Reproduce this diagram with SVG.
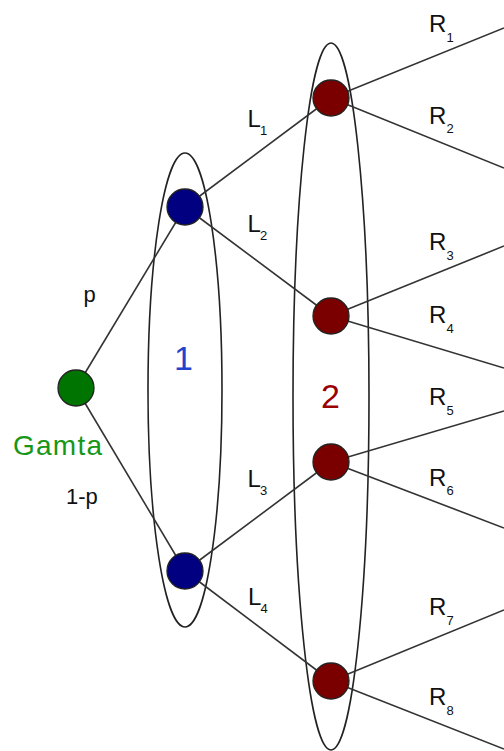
<svg xmlns="http://www.w3.org/2000/svg" width="504" height="751" viewBox="0 0 504 751">
<style>
.bg{fill:#ffffff}
.set{fill:none;stroke:#222;stroke-width:1.6}
.edge{stroke:#333;stroke-width:1.6;fill:none}
.node{stroke:#222;stroke-width:1.3}
.g{fill:#007400}
.b{fill:#000080}
.r{fill:#7a0000}
.lbl{font-family:"Liberation Sans",Arial,sans-serif;fill:#111}
.big{font-family:"Liberation Sans",Arial,sans-serif;font-size:34px}
.lr{font-size:24px}
.sub{font-size:13px}
</style>
<rect class="bg" x="0" y="0" width="504" height="751"/>
<g id="sets">
<ellipse id="set1" class="set" cx="185" cy="390" rx="37" ry="237"/>
<ellipse id="set2" class="set" cx="331" cy="396.5" rx="38" ry="353.5"/>
</g>
<g id="connectors">
<line class="edge" x1="76" y1="388" x2="185" y2="207"/>
<line class="edge" x1="76" y1="388" x2="185" y2="571"/>
<line class="edge" x1="185" y1="207" x2="331" y2="98"/>
<line class="edge" x1="185" y1="207" x2="331" y2="316"/>
<line class="edge" x1="185" y1="571" x2="331" y2="462"/>
<line class="edge" x1="185" y1="571" x2="331" y2="681"/>
<line class="edge" x1="331" y1="98" x2="504" y2="28"/>
<line class="edge" x1="331" y1="98" x2="504" y2="168"/>
<line class="edge" x1="331" y1="316" x2="504" y2="246"/>
<line class="edge" x1="331" y1="316" x2="504" y2="368"/>
<line class="edge" x1="331" y1="462" x2="504" y2="411"/>
<line class="edge" x1="331" y1="462" x2="504" y2="528"/>
<line class="edge" x1="331" y1="681" x2="504" y2="610"/>
<line class="edge" x1="331" y1="681" x2="504" y2="749"/>
</g>
<g id="gamta"><circle class="node g" cx="76" cy="388" r="18"/><text class="lbl" x="13" y="455" font-size="28" style="fill:#179617" textLength="89">Gamta</text></g>
<g id="b1"><circle class="node b" cx="185" cy="207" r="18"/></g>
<g id="b2"><circle class="node b" cx="185" cy="571" r="18"/></g>
<g id="r1"><circle class="node r" cx="331" cy="98" r="18"/></g>
<g id="r2"><circle class="node r" cx="331" cy="316" r="18"/></g>
<g id="r3"><circle class="node r" cx="331" cy="462" r="18"/></g>
<g id="r4"><circle class="node r" cx="331" cy="681" r="18"/></g>
<g id="labels">
<text class="big" x="183.5" y="370" text-anchor="middle" fill="#2244cc">1</text>
<text class="big" x="330.5" y="408" text-anchor="middle" fill="#9a0000">2</text>
<text class="lbl" x="83.5" y="301.5" font-size="22">p</text>
<text class="lbl" x="66" y="504" font-size="22">1-p</text>
<text class="lbl lr" x="247.5" y="127">L<tspan class="sub" x="260" y="135">1</tspan></text>
<text class="lbl lr" x="247.5" y="232">L<tspan class="sub" x="260" y="240">2</tspan></text>
<text class="lbl lr" x="247.5" y="487">L<tspan class="sub" x="260" y="495">3</tspan></text>
<text class="lbl lr" x="248" y="605">L<tspan class="sub" x="260.5" y="613">4</tspan></text>
<text class="lbl lr" x="429" y="32">R<tspan class="sub" x="446.5" y="41.5">1</tspan></text>
<text class="lbl lr" x="429" y="123.5">R<tspan class="sub" x="446.5" y="133">2</tspan></text>
<text class="lbl lr" x="429" y="250">R<tspan class="sub" x="446.5" y="259.5">3</tspan></text>
<text class="lbl lr" x="429" y="323">R<tspan class="sub" x="446.5" y="332.5">4</tspan></text>
<text class="lbl lr" x="429" y="405">R<tspan class="sub" x="446.5" y="414.5">5</tspan></text>
<text class="lbl lr" x="429" y="485.5">R<tspan class="sub" x="446.5" y="495">6</tspan></text>
<text class="lbl lr" x="429" y="615">R<tspan class="sub" x="446.5" y="624.5">7</tspan></text>
<text class="lbl lr" x="429" y="705">R<tspan class="sub" x="446.5" y="714.5">8</tspan></text>
</g>
</svg>
